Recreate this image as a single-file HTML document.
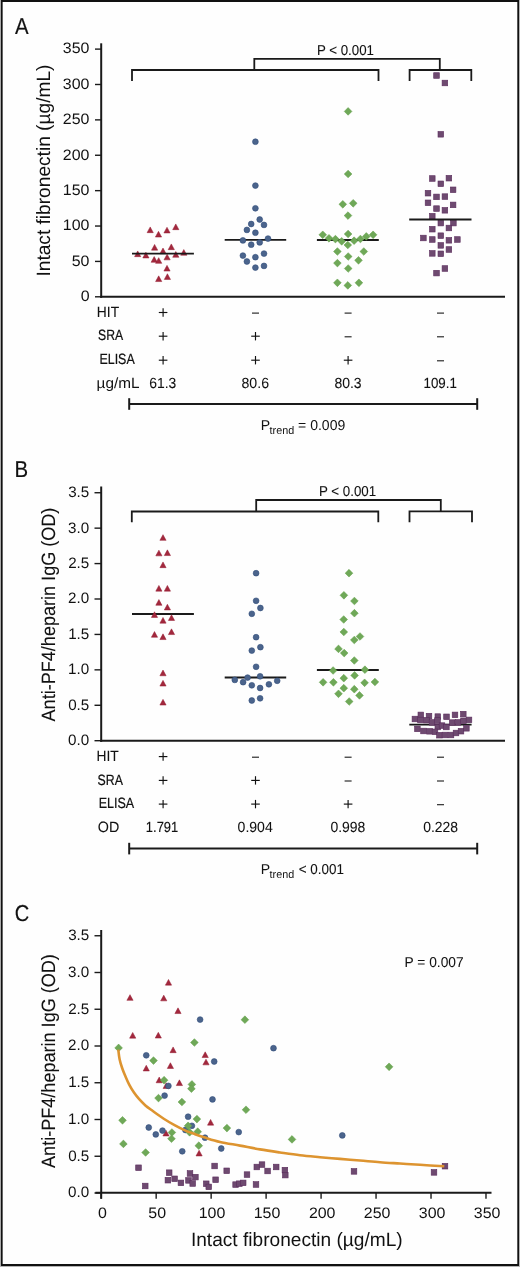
<!DOCTYPE html>
<html><head><meta charset="utf-8"><title>Figure</title>
<style>
html,body{margin:0;padding:0;background:#fff;}
svg{display:block;will-change:transform;}
text{font-family:"Liberation Sans", sans-serif;text-rendering:geometricPrecision;}
</style></head>
<body>
<svg width="520" height="1267" viewBox="0 0 520 1267">
<rect x="0" y="0" width="520" height="1267" fill="#fefefe"/>
<rect x="0.5" y="-1" width="519" height="1267.5" fill="none" stroke="#b4b4b4" stroke-width="1"/>
<path d="M1,1H519" stroke="#111" stroke-width="2" fill="none"/>
<path d="M1.8,0V1266" stroke="#111" stroke-width="1.7" fill="none"/>
<path d="M518.15,0V1266" stroke="#111" stroke-width="1.7" fill="none"/>
<path d="M1,1265H519" stroke="#111" stroke-width="2" fill="none"/>
<text id="lblA" transform="translate(15.12,33.70) scale(0.8868,1)" font-size="23.0" fill="#111" stroke="#111" stroke-width="0.15">A</text>
<line x1="101.20" y1="43.30" x2="101.20" y2="297.80" stroke="#1a1a1a" stroke-width="2.0" stroke-linecap="butt"/>
<line x1="100.20" y1="296.80" x2="505.00" y2="296.80" stroke="#1a1a1a" stroke-width="2.1" stroke-linecap="butt"/>
<line x1="95.00" y1="296.80" x2="101.20" y2="296.80" stroke="#1a1a1a" stroke-width="1.4" stroke-linecap="butt"/>
<text id="tA0" transform="translate(80.66,301.15) scale(1.0500,1)" font-size="15.2" fill="#111">0</text>
<line x1="95.00" y1="261.42" x2="101.20" y2="261.42" stroke="#1a1a1a" stroke-width="1.4" stroke-linecap="butt"/>
<text id="tA50" transform="translate(71.69,265.77) scale(1.0500,1)" font-size="15.2" fill="#111">50</text>
<line x1="95.00" y1="226.03" x2="101.20" y2="226.03" stroke="#1a1a1a" stroke-width="1.4" stroke-linecap="butt"/>
<text id="tA100" transform="translate(62.81,230.38) scale(1.0500,1)" font-size="15.2" fill="#111">100</text>
<line x1="95.00" y1="190.65" x2="101.20" y2="190.65" stroke="#1a1a1a" stroke-width="1.4" stroke-linecap="butt"/>
<text id="tA150" transform="translate(62.81,195.00) scale(1.0500,1)" font-size="15.2" fill="#111">150</text>
<line x1="95.00" y1="155.26" x2="101.20" y2="155.26" stroke="#1a1a1a" stroke-width="1.4" stroke-linecap="butt"/>
<text id="tA200" transform="translate(62.81,159.61) scale(1.0500,1)" font-size="15.2" fill="#111">200</text>
<line x1="95.00" y1="119.88" x2="101.20" y2="119.88" stroke="#1a1a1a" stroke-width="1.4" stroke-linecap="butt"/>
<text id="tA250" transform="translate(62.81,124.22) scale(1.0500,1)" font-size="15.2" fill="#111">250</text>
<line x1="95.00" y1="84.49" x2="101.20" y2="84.49" stroke="#1a1a1a" stroke-width="1.4" stroke-linecap="butt"/>
<text id="tA300" transform="translate(62.81,88.84) scale(1.0500,1)" font-size="15.2" fill="#111">300</text>
<line x1="95.00" y1="49.11" x2="101.20" y2="49.11" stroke="#1a1a1a" stroke-width="1.4" stroke-linecap="butt"/>
<text id="tA350" transform="translate(62.81,53.46) scale(1.0500,1)" font-size="15.2" fill="#111">350</text>
<text id="ytA" transform="translate(49.70,276.58) rotate(-90) scale(0.9923,1)" font-size="19.3" fill="#111">Intact fibronectin (µg/mL)</text>
<path d="M132,81V70H378.5V81" stroke="#1a1a1a" stroke-width="1.8" fill="none" stroke-linejoin="miter" />
<path d="M409.6,81V70.0H471.3V81" stroke="#1a1a1a" stroke-width="1.8" fill="none" stroke-linejoin="miter" />
<path d="M254.3,70V58.9H439.8V70" stroke="#1a1a1a" stroke-width="1.8" fill="none" stroke-linejoin="miter" />
<text id="pA" transform="translate(316.95,54.60) scale(0.9286,1)" font-size="14.3" fill="#111" stroke="#111" stroke-width="0.09">P &lt; 0.001</text>
<text id="hitA" transform="translate(96.81,316.70) scale(0.9286,1)" font-size="14.9" fill="#111" stroke="#111" stroke-width="0.09">HIT</text>
<text id="sraA" transform="translate(98.07,340.40) scale(0.8195,1)" font-size="14.9" fill="#111" stroke="#111" stroke-width="0.23">SRA</text>
<text id="elisaA" transform="translate(99.43,364.40) scale(0.8355,1)" font-size="14.9" fill="#111" stroke="#111" stroke-width="0.21">ELISA</text>
<text id="ugA" transform="translate(96.59,388.40) scale(1.0279,1)" font-size="14.9" fill="#111">µg/mL</text>
<line x1="158.80" y1="312.50" x2="167.40" y2="312.50" stroke="#111" stroke-width="1.15" stroke-linecap="butt"/>
<line x1="163.10" y1="308.30" x2="163.10" y2="316.70" stroke="#111" stroke-width="1.15" stroke-linecap="butt"/>
<line x1="252.00" y1="313.10" x2="259.00" y2="313.10" stroke="#1a1a1a" stroke-width="1.1" stroke-linecap="butt"/>
<line x1="344.60" y1="313.10" x2="351.60" y2="313.10" stroke="#1a1a1a" stroke-width="1.1" stroke-linecap="butt"/>
<line x1="437.00" y1="313.10" x2="444.00" y2="313.10" stroke="#1a1a1a" stroke-width="1.1" stroke-linecap="butt"/>
<line x1="158.80" y1="336.20" x2="167.40" y2="336.20" stroke="#111" stroke-width="1.15" stroke-linecap="butt"/>
<line x1="163.10" y1="332.00" x2="163.10" y2="340.40" stroke="#111" stroke-width="1.15" stroke-linecap="butt"/>
<line x1="251.20" y1="336.20" x2="259.80" y2="336.20" stroke="#111" stroke-width="1.15" stroke-linecap="butt"/>
<line x1="255.50" y1="332.00" x2="255.50" y2="340.40" stroke="#111" stroke-width="1.15" stroke-linecap="butt"/>
<line x1="344.60" y1="336.80" x2="351.60" y2="336.80" stroke="#1a1a1a" stroke-width="1.1" stroke-linecap="butt"/>
<line x1="437.00" y1="336.80" x2="444.00" y2="336.80" stroke="#1a1a1a" stroke-width="1.1" stroke-linecap="butt"/>
<line x1="158.80" y1="360.20" x2="167.40" y2="360.20" stroke="#111" stroke-width="1.15" stroke-linecap="butt"/>
<line x1="163.10" y1="356.00" x2="163.10" y2="364.40" stroke="#111" stroke-width="1.15" stroke-linecap="butt"/>
<line x1="251.20" y1="360.20" x2="259.80" y2="360.20" stroke="#111" stroke-width="1.15" stroke-linecap="butt"/>
<line x1="255.50" y1="356.00" x2="255.50" y2="364.40" stroke="#111" stroke-width="1.15" stroke-linecap="butt"/>
<line x1="343.80" y1="360.20" x2="352.40" y2="360.20" stroke="#111" stroke-width="1.15" stroke-linecap="butt"/>
<line x1="348.10" y1="356.00" x2="348.10" y2="364.40" stroke="#111" stroke-width="1.15" stroke-linecap="butt"/>
<line x1="437.00" y1="360.80" x2="444.00" y2="360.80" stroke="#1a1a1a" stroke-width="1.1" stroke-linecap="butt"/>
<text id="nA0" transform="translate(149.24,388.40) scale(0.9468,1)" font-size="14.65" fill="#111" stroke="#111" stroke-width="0.07">61.3</text>
<text id="nA1" transform="translate(241.50,388.40) scale(0.9662,1)" font-size="14.65" fill="#111" stroke="#111" stroke-width="0.04">80.6</text>
<text id="nA2" transform="translate(334.41,388.40) scale(0.9553,1)" font-size="14.65" fill="#111" stroke="#111" stroke-width="0.06">80.3</text>
<text id="nA3" transform="translate(423.52,388.40) scale(0.9116,1)" font-size="14.65" fill="#111" stroke="#111" stroke-width="0.11">109.1</text>
<line x1="129.20" y1="403.90" x2="477.20" y2="403.90" stroke="#1a1a1a" stroke-width="2.0" stroke-linecap="butt"/>
<line x1="129.20" y1="398.20" x2="129.20" y2="409.80" stroke="#1a1a1a" stroke-width="2.0" stroke-linecap="butt"/>
<line x1="477.20" y1="398.20" x2="477.20" y2="409.80" stroke="#1a1a1a" stroke-width="2.0" stroke-linecap="butt"/>
<text id="ptA" transform="translate(260.78,429.90) scale(0.9844,1)" font-size="14.3" fill="#111">P</text>
<text id="ptA_s" transform="translate(269.60,433.60) scale(0.9814,1)" font-size="11.0" fill="#111">trend</text>
<text id="ptA_v" transform="translate(298.09,430.10) scale(0.9804,1)" font-size="14.3" fill="#111">= 0.009</text>
<text id="lblB" transform="translate(14.52,477.30) scale(0.8888,1)" font-size="23.0" fill="#111" stroke="#111" stroke-width="0.14">B</text>
<line x1="101.20" y1="486.50" x2="101.20" y2="741.80" stroke="#1a1a1a" stroke-width="2.0" stroke-linecap="butt"/>
<line x1="100.20" y1="740.80" x2="505.00" y2="740.80" stroke="#1a1a1a" stroke-width="2.1" stroke-linecap="butt"/>
<line x1="94.50" y1="740.70" x2="101.20" y2="740.70" stroke="#1a1a1a" stroke-width="1.4" stroke-linecap="butt"/>
<text id="tB0" transform="translate(68.08,745.05) scale(1.0000,1)" font-size="15.2" fill="#111">0.0</text>
<line x1="94.50" y1="705.28" x2="101.20" y2="705.28" stroke="#1a1a1a" stroke-width="1.4" stroke-linecap="butt"/>
<text id="tB1" transform="translate(68.13,709.63) scale(1.0000,1)" font-size="15.2" fill="#111">0.5</text>
<line x1="94.50" y1="669.85" x2="101.20" y2="669.85" stroke="#1a1a1a" stroke-width="1.4" stroke-linecap="butt"/>
<text id="tB2" transform="translate(68.08,674.20) scale(1.0000,1)" font-size="15.2" fill="#111">1.0</text>
<line x1="94.50" y1="634.43" x2="101.20" y2="634.43" stroke="#1a1a1a" stroke-width="1.4" stroke-linecap="butt"/>
<text id="tB3" transform="translate(68.13,638.78) scale(1.0000,1)" font-size="15.2" fill="#111">1.5</text>
<line x1="94.50" y1="599.00" x2="101.20" y2="599.00" stroke="#1a1a1a" stroke-width="1.4" stroke-linecap="butt"/>
<text id="tB4" transform="translate(68.08,603.35) scale(1.0000,1)" font-size="15.2" fill="#111">2.0</text>
<line x1="94.50" y1="563.58" x2="101.20" y2="563.58" stroke="#1a1a1a" stroke-width="1.4" stroke-linecap="butt"/>
<text id="tB5" transform="translate(68.13,567.93) scale(1.0000,1)" font-size="15.2" fill="#111">2.5</text>
<line x1="94.50" y1="528.15" x2="101.20" y2="528.15" stroke="#1a1a1a" stroke-width="1.4" stroke-linecap="butt"/>
<text id="tB6" transform="translate(68.08,532.50) scale(1.0000,1)" font-size="15.2" fill="#111">3.0</text>
<line x1="94.50" y1="492.73" x2="101.20" y2="492.73" stroke="#1a1a1a" stroke-width="1.4" stroke-linecap="butt"/>
<text id="tB7" transform="translate(68.13,497.08) scale(1.0000,1)" font-size="15.2" fill="#111">3.5</text>
<text id="ytB" transform="translate(54.50,721.46) rotate(-90) scale(0.9369,1)" font-size="19.3" fill="#111" stroke="#111" stroke-width="0.08">Anti-PF4/heparin IgG (OD)</text>
<path d="M131.8,522.3V511.5H378.3V522.3" stroke="#1a1a1a" stroke-width="1.8" fill="none" stroke-linejoin="miter" />
<path d="M409.5,522.3V511.3H472V522.3" stroke="#1a1a1a" stroke-width="1.8" fill="none" stroke-linejoin="miter" />
<path d="M256.2,511.5V500H440.8V511.3" stroke="#1a1a1a" stroke-width="1.8" fill="none" stroke-linejoin="miter" />
<text id="pB" transform="translate(318.94,495.90) scale(0.9320,1)" font-size="14.3" fill="#111" stroke="#111" stroke-width="0.09">P &lt; 0.001</text>
<line x1="132.00" y1="614.00" x2="193.90" y2="614.00" stroke="#1a1a1a" stroke-width="1.8" stroke-linecap="butt"/>
<line x1="224.70" y1="677.50" x2="286.20" y2="677.50" stroke="#1a1a1a" stroke-width="1.8" stroke-linecap="butt"/>
<line x1="316.90" y1="670.00" x2="378.80" y2="670.00" stroke="#1a1a1a" stroke-width="1.8" stroke-linecap="butt"/>
<line x1="409.30" y1="724.60" x2="471.60" y2="724.60" stroke="#1a1a1a" stroke-width="1.8" stroke-linecap="butt"/>
<text id="hitB" transform="translate(96.61,760.80) scale(0.9241,1)" font-size="14.9" fill="#111" stroke="#111" stroke-width="0.10">HIT</text>
<text id="sraB" transform="translate(97.56,784.60) scale(0.8263,1)" font-size="14.9" fill="#111" stroke="#111" stroke-width="0.23">SRA</text>
<text id="elisaB" transform="translate(98.72,808.30) scale(0.8404,1)" font-size="14.9" fill="#111" stroke="#111" stroke-width="0.21">ELISA</text>
<text id="odB" transform="translate(97.86,831.90) scale(0.9624,1)" font-size="14.9" fill="#111" stroke="#111" stroke-width="0.05">OD</text>
<line x1="158.80" y1="756.60" x2="167.40" y2="756.60" stroke="#111" stroke-width="1.15" stroke-linecap="butt"/>
<line x1="163.10" y1="752.40" x2="163.10" y2="760.80" stroke="#111" stroke-width="1.15" stroke-linecap="butt"/>
<line x1="252.00" y1="757.20" x2="259.00" y2="757.20" stroke="#1a1a1a" stroke-width="1.1" stroke-linecap="butt"/>
<line x1="344.60" y1="757.20" x2="351.60" y2="757.20" stroke="#1a1a1a" stroke-width="1.1" stroke-linecap="butt"/>
<line x1="437.00" y1="757.20" x2="444.00" y2="757.20" stroke="#1a1a1a" stroke-width="1.1" stroke-linecap="butt"/>
<line x1="158.80" y1="780.40" x2="167.40" y2="780.40" stroke="#111" stroke-width="1.15" stroke-linecap="butt"/>
<line x1="163.10" y1="776.20" x2="163.10" y2="784.60" stroke="#111" stroke-width="1.15" stroke-linecap="butt"/>
<line x1="251.20" y1="780.40" x2="259.80" y2="780.40" stroke="#111" stroke-width="1.15" stroke-linecap="butt"/>
<line x1="255.50" y1="776.20" x2="255.50" y2="784.60" stroke="#111" stroke-width="1.15" stroke-linecap="butt"/>
<line x1="344.60" y1="781.00" x2="351.60" y2="781.00" stroke="#1a1a1a" stroke-width="1.1" stroke-linecap="butt"/>
<line x1="437.00" y1="781.00" x2="444.00" y2="781.00" stroke="#1a1a1a" stroke-width="1.1" stroke-linecap="butt"/>
<line x1="158.80" y1="804.10" x2="167.40" y2="804.10" stroke="#111" stroke-width="1.15" stroke-linecap="butt"/>
<line x1="163.10" y1="799.90" x2="163.10" y2="808.30" stroke="#111" stroke-width="1.15" stroke-linecap="butt"/>
<line x1="251.20" y1="804.10" x2="259.80" y2="804.10" stroke="#111" stroke-width="1.15" stroke-linecap="butt"/>
<line x1="255.50" y1="799.90" x2="255.50" y2="808.30" stroke="#111" stroke-width="1.15" stroke-linecap="butt"/>
<line x1="343.80" y1="804.10" x2="352.40" y2="804.10" stroke="#111" stroke-width="1.15" stroke-linecap="butt"/>
<line x1="348.10" y1="799.90" x2="348.10" y2="808.30" stroke="#111" stroke-width="1.15" stroke-linecap="butt"/>
<line x1="437.00" y1="804.70" x2="444.00" y2="804.70" stroke="#1a1a1a" stroke-width="1.1" stroke-linecap="butt"/>
<text id="nB0" transform="translate(145.85,831.90) scale(0.8828,1)" font-size="14.65" fill="#111" stroke="#111" stroke-width="0.15">1.791</text>
<text id="nB1" transform="translate(237.58,831.90) scale(0.9603,1)" font-size="14.65" fill="#111" stroke="#111" stroke-width="0.05">0.904</text>
<text id="nB2" transform="translate(330.38,831.90) scale(0.9541,1)" font-size="14.65" fill="#111" stroke="#111" stroke-width="0.06">0.998</text>
<text id="nB3" transform="translate(423.18,831.90) scale(0.9513,1)" font-size="14.65" fill="#111" stroke="#111" stroke-width="0.06">0.228</text>
<line x1="129.20" y1="848.50" x2="477.20" y2="848.50" stroke="#1a1a1a" stroke-width="2.0" stroke-linecap="butt"/>
<line x1="129.20" y1="842.80" x2="129.20" y2="854.40" stroke="#1a1a1a" stroke-width="2.0" stroke-linecap="butt"/>
<line x1="477.20" y1="842.80" x2="477.20" y2="854.40" stroke="#1a1a1a" stroke-width="2.0" stroke-linecap="butt"/>
<text id="ptB" transform="translate(260.78,873.90) scale(0.9844,1)" font-size="14.3" fill="#111">P</text>
<text id="ptB_s" transform="translate(269.60,877.60) scale(0.9814,1)" font-size="11.0" fill="#111">trend</text>
<text id="ptB_v" transform="translate(298.72,874.10) scale(0.9394,1)" font-size="14.3" fill="#111" stroke="#111" stroke-width="0.08">&lt; 0.001</text>
<text id="lblC" transform="translate(14.68,921.20) scale(0.8734,1)" font-size="23.0" fill="#111" stroke="#111" stroke-width="0.16">C</text>
<line x1="101.20" y1="930.10" x2="101.20" y2="1198.80" stroke="#1a1a1a" stroke-width="2.0" stroke-linecap="butt"/>
<line x1="95.40" y1="1192.80" x2="491.50" y2="1192.80" stroke="#1a1a1a" stroke-width="2.1" stroke-linecap="butt"/>
<line x1="94.50" y1="1193.00" x2="101.20" y2="1193.00" stroke="#1a1a1a" stroke-width="1.4" stroke-linecap="butt"/>
<text id="tC0" transform="translate(68.08,1197.35) scale(1.0000,1)" font-size="15.2" fill="#111">0.0</text>
<line x1="94.50" y1="1156.25" x2="101.20" y2="1156.25" stroke="#1a1a1a" stroke-width="1.4" stroke-linecap="butt"/>
<text id="tC1" transform="translate(68.13,1160.60) scale(1.0000,1)" font-size="15.2" fill="#111">0.5</text>
<line x1="94.50" y1="1119.50" x2="101.20" y2="1119.50" stroke="#1a1a1a" stroke-width="1.4" stroke-linecap="butt"/>
<text id="tC2" transform="translate(68.08,1123.85) scale(1.0000,1)" font-size="15.2" fill="#111">1.0</text>
<line x1="94.50" y1="1082.75" x2="101.20" y2="1082.75" stroke="#1a1a1a" stroke-width="1.4" stroke-linecap="butt"/>
<text id="tC3" transform="translate(68.13,1087.10) scale(1.0000,1)" font-size="15.2" fill="#111">1.5</text>
<line x1="94.50" y1="1046.00" x2="101.20" y2="1046.00" stroke="#1a1a1a" stroke-width="1.4" stroke-linecap="butt"/>
<text id="tC4" transform="translate(68.08,1050.35) scale(1.0000,1)" font-size="15.2" fill="#111">2.0</text>
<line x1="94.50" y1="1009.25" x2="101.20" y2="1009.25" stroke="#1a1a1a" stroke-width="1.4" stroke-linecap="butt"/>
<text id="tC5" transform="translate(68.13,1013.60) scale(1.0000,1)" font-size="15.2" fill="#111">2.5</text>
<line x1="94.50" y1="972.50" x2="101.20" y2="972.50" stroke="#1a1a1a" stroke-width="1.4" stroke-linecap="butt"/>
<text id="tC6" transform="translate(68.08,976.85) scale(1.0000,1)" font-size="15.2" fill="#111">3.0</text>
<line x1="94.50" y1="935.75" x2="101.20" y2="935.75" stroke="#1a1a1a" stroke-width="1.4" stroke-linecap="butt"/>
<text id="tC7" transform="translate(68.13,940.10) scale(1.0000,1)" font-size="15.2" fill="#111">3.5</text>
<line x1="101.20" y1="1192.80" x2="101.20" y2="1198.80" stroke="#1a1a1a" stroke-width="1.4" stroke-linecap="butt"/>
<text id="xC0" transform="translate(97.99,1218.00) scale(1.0500,1)" font-size="15.2" fill="#111">0</text>
<line x1="156.17" y1="1192.80" x2="156.17" y2="1198.80" stroke="#1a1a1a" stroke-width="1.4" stroke-linecap="butt"/>
<text id="xC50" transform="translate(148.34,1218.00) scale(1.0500,1)" font-size="15.2" fill="#111">50</text>
<line x1="211.14" y1="1192.80" x2="211.14" y2="1198.80" stroke="#1a1a1a" stroke-width="1.4" stroke-linecap="butt"/>
<text id="xC100" transform="translate(198.70,1218.00) scale(1.0500,1)" font-size="15.2" fill="#111">100</text>
<line x1="266.11" y1="1192.80" x2="266.11" y2="1198.80" stroke="#1a1a1a" stroke-width="1.4" stroke-linecap="butt"/>
<text id="xC150" transform="translate(253.67,1218.00) scale(1.0500,1)" font-size="15.2" fill="#111">150</text>
<line x1="321.08" y1="1192.80" x2="321.08" y2="1198.80" stroke="#1a1a1a" stroke-width="1.4" stroke-linecap="butt"/>
<text id="xC200" transform="translate(308.88,1218.00) scale(1.0500,1)" font-size="15.2" fill="#111">200</text>
<line x1="376.05" y1="1192.80" x2="376.05" y2="1198.80" stroke="#1a1a1a" stroke-width="1.4" stroke-linecap="butt"/>
<text id="xC250" transform="translate(363.85,1218.00) scale(1.0500,1)" font-size="15.2" fill="#111">250</text>
<line x1="431.02" y1="1192.80" x2="431.02" y2="1198.80" stroke="#1a1a1a" stroke-width="1.4" stroke-linecap="butt"/>
<text id="xC300" transform="translate(418.82,1218.00) scale(1.0500,1)" font-size="15.2" fill="#111">300</text>
<line x1="485.99" y1="1192.80" x2="485.99" y2="1198.80" stroke="#1a1a1a" stroke-width="1.4" stroke-linecap="butt"/>
<text id="xC350" transform="translate(473.79,1218.00) scale(1.0500,1)" font-size="15.2" fill="#111">350</text>
<text id="ytC" transform="translate(54.80,1167.96) rotate(-90) scale(0.9369,1)" font-size="19.3" fill="#111" stroke="#111" stroke-width="0.08">Anti-PF4/heparin IgG (OD)</text>
<text id="xtC" transform="translate(190.92,1245.80) scale(0.9914,1)" font-size="19.3" fill="#111">Intact fibronectin (µg/mL)</text>
<text id="pC" transform="translate(404.60,967.20) scale(0.9618,1)" font-size="14.3" fill="#111" stroke="#111" stroke-width="0.05">P = 0.007</text>
<path d="M150.20,226.95L153.30,232.65L147.10,232.65Z" fill="#a2283d" stroke="#951a31" stroke-width="0.5"/>
<path d="M158.50,231.35L161.60,237.05L155.40,237.05Z" fill="#a2283d" stroke="#951a31" stroke-width="0.5"/>
<path d="M167.00,227.25L170.10,232.95L163.90,232.95Z" fill="#a2283d" stroke="#951a31" stroke-width="0.5"/>
<path d="M175.80,223.95L178.90,229.65L172.70,229.65Z" fill="#a2283d" stroke="#951a31" stroke-width="0.5"/>
<path d="M154.60,244.45L157.70,250.15L151.50,250.15Z" fill="#a2283d" stroke="#951a31" stroke-width="0.5"/>
<path d="M171.30,243.95L174.40,249.65L168.20,249.65Z" fill="#a2283d" stroke="#951a31" stroke-width="0.5"/>
<path d="M163.00,248.05L166.10,253.75L159.90,253.75Z" fill="#a2283d" stroke="#951a31" stroke-width="0.5"/>
<path d="M137.70,250.95L140.80,256.65L134.60,256.65Z" fill="#a2283d" stroke="#951a31" stroke-width="0.5"/>
<path d="M145.90,252.25L149.00,257.95L142.80,257.95Z" fill="#a2283d" stroke="#951a31" stroke-width="0.5"/>
<path d="M154.20,256.55L157.30,262.25L151.10,262.25Z" fill="#a2283d" stroke="#951a31" stroke-width="0.5"/>
<path d="M158.70,257.65L161.80,263.35L155.60,263.35Z" fill="#a2283d" stroke="#951a31" stroke-width="0.5"/>
<path d="M167.10,254.15L170.20,259.85L164.00,259.85Z" fill="#a2283d" stroke="#951a31" stroke-width="0.5"/>
<path d="M175.80,251.55L178.90,257.25L172.70,257.25Z" fill="#a2283d" stroke="#951a31" stroke-width="0.5"/>
<path d="M183.80,249.55L186.90,255.25L180.70,255.25Z" fill="#a2283d" stroke="#951a31" stroke-width="0.5"/>
<path d="M167.00,265.35L170.10,271.05L163.90,271.05Z" fill="#a2283d" stroke="#951a31" stroke-width="0.5"/>
<path d="M158.70,275.85L161.80,281.55L155.60,281.55Z" fill="#a2283d" stroke="#951a31" stroke-width="0.5"/>
<path d="M167.40,273.75L170.50,279.45L164.30,279.45Z" fill="#a2283d" stroke="#951a31" stroke-width="0.5"/>
<line x1="132.00" y1="253.60" x2="193.90" y2="253.60" stroke="#1a1a1a" stroke-width="1.8" stroke-linecap="butt"/>
<line x1="224.70" y1="239.80" x2="286.20" y2="239.80" stroke="#1a1a1a" stroke-width="1.8" stroke-linecap="butt"/>
<circle cx="255.40" cy="141.70" r="2.9" fill="#4b648c" stroke="#304d7b" stroke-width="0.6"/>
<circle cx="255.40" cy="185.60" r="2.9" fill="#4b648c" stroke="#304d7b" stroke-width="0.6"/>
<circle cx="255.40" cy="208.30" r="2.9" fill="#4b648c" stroke="#304d7b" stroke-width="0.6"/>
<circle cx="259.70" cy="219.50" r="2.9" fill="#4b648c" stroke="#304d7b" stroke-width="0.6"/>
<circle cx="251.20" cy="224.00" r="2.9" fill="#4b648c" stroke="#304d7b" stroke-width="0.6"/>
<circle cx="264.00" cy="224.90" r="2.9" fill="#4b648c" stroke="#304d7b" stroke-width="0.6"/>
<circle cx="246.90" cy="229.90" r="2.9" fill="#4b648c" stroke="#304d7b" stroke-width="0.6"/>
<circle cx="255.40" cy="232.70" r="2.9" fill="#4b648c" stroke="#304d7b" stroke-width="0.6"/>
<circle cx="242.90" cy="240.40" r="2.9" fill="#4b648c" stroke="#304d7b" stroke-width="0.6"/>
<circle cx="268.00" cy="238.60" r="2.9" fill="#4b648c" stroke="#304d7b" stroke-width="0.6"/>
<circle cx="251.20" cy="244.70" r="2.9" fill="#4b648c" stroke="#304d7b" stroke-width="0.6"/>
<circle cx="259.70" cy="242.40" r="2.9" fill="#4b648c" stroke="#304d7b" stroke-width="0.6"/>
<circle cx="242.90" cy="255.60" r="2.9" fill="#4b648c" stroke="#304d7b" stroke-width="0.6"/>
<circle cx="255.40" cy="257.20" r="2.9" fill="#4b648c" stroke="#304d7b" stroke-width="0.6"/>
<circle cx="264.00" cy="253.60" r="2.9" fill="#4b648c" stroke="#304d7b" stroke-width="0.6"/>
<circle cx="246.90" cy="261.50" r="2.9" fill="#4b648c" stroke="#304d7b" stroke-width="0.6"/>
<circle cx="255.40" cy="267.60" r="2.9" fill="#4b648c" stroke="#304d7b" stroke-width="0.6"/>
<circle cx="264.00" cy="265.90" r="2.9" fill="#4b648c" stroke="#304d7b" stroke-width="0.6"/>
<line x1="316.90" y1="240.00" x2="378.80" y2="240.00" stroke="#1a1a1a" stroke-width="1.8" stroke-linecap="butt"/>
<path d="M348.10,107.55L351.95,111.40L348.10,115.25L344.25,111.40Z" fill="#6fa858" stroke="#5e9e44" stroke-width="0.5"/>
<path d="M348.10,170.15L351.95,174.00L348.10,177.85L344.25,174.00Z" fill="#6fa858" stroke="#5e9e44" stroke-width="0.5"/>
<path d="M342.80,200.45L346.65,204.30L342.80,208.15L338.95,204.30Z" fill="#6fa858" stroke="#5e9e44" stroke-width="0.5"/>
<path d="M353.20,199.45L357.05,203.30L353.20,207.15L349.35,203.30Z" fill="#6fa858" stroke="#5e9e44" stroke-width="0.5"/>
<path d="M348.00,211.75L351.85,215.60L348.00,219.45L344.15,215.60Z" fill="#6fa858" stroke="#5e9e44" stroke-width="0.5"/>
<path d="M322.75,230.95L326.60,234.80L322.75,238.65L318.90,234.80Z" fill="#6fa858" stroke="#5e9e44" stroke-width="0.5"/>
<path d="M329.00,234.45L332.85,238.30L329.00,242.15L325.15,238.30Z" fill="#6fa858" stroke="#5e9e44" stroke-width="0.5"/>
<path d="M335.40,235.25L339.25,239.10L335.40,242.95L331.55,239.10Z" fill="#6fa858" stroke="#5e9e44" stroke-width="0.5"/>
<path d="M341.70,237.45L345.55,241.30L341.70,245.15L337.85,241.30Z" fill="#6fa858" stroke="#5e9e44" stroke-width="0.5"/>
<path d="M348.10,230.15L351.95,234.00L348.10,237.85L344.25,234.00Z" fill="#6fa858" stroke="#5e9e44" stroke-width="0.5"/>
<path d="M347.80,241.15L351.65,245.00L347.80,248.85L343.95,245.00Z" fill="#6fa858" stroke="#5e9e44" stroke-width="0.5"/>
<path d="M354.10,236.85L357.95,240.70L354.10,244.55L350.25,240.70Z" fill="#6fa858" stroke="#5e9e44" stroke-width="0.5"/>
<path d="M360.40,235.15L364.25,239.00L360.40,242.85L356.55,239.00Z" fill="#6fa858" stroke="#5e9e44" stroke-width="0.5"/>
<path d="M366.30,232.55L370.15,236.40L366.30,240.25L362.45,236.40Z" fill="#6fa858" stroke="#5e9e44" stroke-width="0.5"/>
<path d="M373.10,230.95L376.95,234.80L373.10,238.65L369.25,234.80Z" fill="#6fa858" stroke="#5e9e44" stroke-width="0.5"/>
<path d="M337.40,247.65L341.25,251.50L337.40,255.35L333.55,251.50Z" fill="#6fa858" stroke="#5e9e44" stroke-width="0.5"/>
<path d="M348.20,252.65L352.05,256.50L348.20,260.35L344.35,256.50Z" fill="#6fa858" stroke="#5e9e44" stroke-width="0.5"/>
<path d="M363.80,247.65L367.65,251.50L363.80,255.35L359.95,251.50Z" fill="#6fa858" stroke="#5e9e44" stroke-width="0.5"/>
<path d="M337.40,259.25L341.25,263.10L337.40,266.95L333.55,263.10Z" fill="#6fa858" stroke="#5e9e44" stroke-width="0.5"/>
<path d="M358.50,256.45L362.35,260.30L358.50,264.15L354.65,260.30Z" fill="#6fa858" stroke="#5e9e44" stroke-width="0.5"/>
<path d="M348.20,264.65L352.05,268.50L348.20,272.35L344.35,268.50Z" fill="#6fa858" stroke="#5e9e44" stroke-width="0.5"/>
<path d="M337.40,278.95L341.25,282.80L337.40,286.65L333.55,282.80Z" fill="#6fa858" stroke="#5e9e44" stroke-width="0.5"/>
<path d="M347.80,281.55L351.65,285.40L347.80,289.25L343.95,285.40Z" fill="#6fa858" stroke="#5e9e44" stroke-width="0.5"/>
<path d="M358.90,278.95L362.75,282.80L358.90,286.65L355.05,282.80Z" fill="#6fa858" stroke="#5e9e44" stroke-width="0.5"/>
<rect x="433.70" y="72.70" width="5.6" height="5.6" fill="#6e4a70" stroke="#5a2c5c" stroke-width="0.6"/>
<rect x="442.10" y="80.20" width="5.6" height="5.6" fill="#6e4a70" stroke="#5a2c5c" stroke-width="0.6"/>
<rect x="438.00" y="131.50" width="5.6" height="5.6" fill="#6e4a70" stroke="#5a2c5c" stroke-width="0.6"/>
<rect x="429.50" y="175.70" width="5.6" height="5.6" fill="#6e4a70" stroke="#5a2c5c" stroke-width="0.6"/>
<rect x="446.10" y="175.40" width="5.6" height="5.6" fill="#6e4a70" stroke="#5a2c5c" stroke-width="0.6"/>
<rect x="438.00" y="181.00" width="5.6" height="5.6" fill="#6e4a70" stroke="#5a2c5c" stroke-width="0.6"/>
<rect x="425.20" y="190.40" width="5.6" height="5.6" fill="#6e4a70" stroke="#5a2c5c" stroke-width="0.6"/>
<rect x="450.30" y="187.00" width="5.6" height="5.6" fill="#6e4a70" stroke="#5a2c5c" stroke-width="0.6"/>
<rect x="433.70" y="194.10" width="5.6" height="5.6" fill="#6e4a70" stroke="#5a2c5c" stroke-width="0.6"/>
<rect x="442.10" y="193.80" width="5.6" height="5.6" fill="#6e4a70" stroke="#5a2c5c" stroke-width="0.6"/>
<rect x="425.20" y="200.00" width="5.6" height="5.6" fill="#6e4a70" stroke="#5a2c5c" stroke-width="0.6"/>
<rect x="450.30" y="202.10" width="5.6" height="5.6" fill="#6e4a70" stroke="#5a2c5c" stroke-width="0.6"/>
<rect x="433.70" y="205.80" width="5.6" height="5.6" fill="#6e4a70" stroke="#5a2c5c" stroke-width="0.6"/>
<rect x="442.10" y="207.50" width="5.6" height="5.6" fill="#6e4a70" stroke="#5a2c5c" stroke-width="0.6"/>
<rect x="429.50" y="213.40" width="5.6" height="5.6" fill="#6e4a70" stroke="#5a2c5c" stroke-width="0.6"/>
<rect x="438.00" y="220.30" width="5.6" height="5.6" fill="#6e4a70" stroke="#5a2c5c" stroke-width="0.6"/>
<rect x="450.60" y="220.30" width="5.6" height="5.6" fill="#6e4a70" stroke="#5a2c5c" stroke-width="0.6"/>
<rect x="446.10" y="225.20" width="5.6" height="5.6" fill="#6e4a70" stroke="#5a2c5c" stroke-width="0.6"/>
<rect x="429.50" y="226.40" width="5.6" height="5.6" fill="#6e4a70" stroke="#5a2c5c" stroke-width="0.6"/>
<rect x="420.60" y="235.20" width="5.6" height="5.6" fill="#6e4a70" stroke="#5a2c5c" stroke-width="0.6"/>
<rect x="429.50" y="236.70" width="5.6" height="5.6" fill="#6e4a70" stroke="#5a2c5c" stroke-width="0.6"/>
<rect x="438.00" y="232.90" width="5.6" height="5.6" fill="#6e4a70" stroke="#5a2c5c" stroke-width="0.6"/>
<rect x="446.10" y="237.50" width="5.6" height="5.6" fill="#6e4a70" stroke="#5a2c5c" stroke-width="0.6"/>
<rect x="454.60" y="236.70" width="5.6" height="5.6" fill="#6e4a70" stroke="#5a2c5c" stroke-width="0.6"/>
<rect x="438.00" y="242.60" width="5.6" height="5.6" fill="#6e4a70" stroke="#5a2c5c" stroke-width="0.6"/>
<rect x="446.10" y="246.70" width="5.6" height="5.6" fill="#6e4a70" stroke="#5a2c5c" stroke-width="0.6"/>
<rect x="429.50" y="250.60" width="5.6" height="5.6" fill="#6e4a70" stroke="#5a2c5c" stroke-width="0.6"/>
<rect x="438.00" y="251.00" width="5.6" height="5.6" fill="#6e4a70" stroke="#5a2c5c" stroke-width="0.6"/>
<rect x="442.10" y="265.70" width="5.6" height="5.6" fill="#6e4a70" stroke="#5a2c5c" stroke-width="0.6"/>
<rect x="433.70" y="270.30" width="5.6" height="5.6" fill="#6e4a70" stroke="#5a2c5c" stroke-width="0.6"/>
<line x1="409.20" y1="219.50" x2="471.50" y2="219.50" stroke="#1a1a1a" stroke-width="1.8" stroke-linecap="butt"/>
<path d="M163.00,534.65L166.10,540.35L159.90,540.35Z" fill="#a2283d" stroke="#951a31" stroke-width="0.5"/>
<path d="M158.90,550.15L162.00,555.85L155.80,555.85Z" fill="#a2283d" stroke="#951a31" stroke-width="0.5"/>
<path d="M167.40,549.85L170.50,555.55L164.30,555.55Z" fill="#a2283d" stroke="#951a31" stroke-width="0.5"/>
<path d="M163.00,561.95L166.10,567.65L159.90,567.65Z" fill="#a2283d" stroke="#951a31" stroke-width="0.5"/>
<path d="M158.90,585.45L162.00,591.15L155.80,591.15Z" fill="#a2283d" stroke="#951a31" stroke-width="0.5"/>
<path d="M167.40,585.45L170.50,591.15L164.30,591.15Z" fill="#a2283d" stroke="#951a31" stroke-width="0.5"/>
<path d="M158.90,599.55L162.00,605.25L155.80,605.25Z" fill="#a2283d" stroke="#951a31" stroke-width="0.5"/>
<path d="M167.40,604.25L170.50,609.95L164.30,609.95Z" fill="#a2283d" stroke="#951a31" stroke-width="0.5"/>
<path d="M154.50,611.75L157.60,617.45L151.40,617.45Z" fill="#a2283d" stroke="#951a31" stroke-width="0.5"/>
<path d="M163.00,617.45L166.10,623.15L159.90,623.15Z" fill="#a2283d" stroke="#951a31" stroke-width="0.5"/>
<path d="M171.50,614.75L174.60,620.45L168.40,620.45Z" fill="#a2283d" stroke="#951a31" stroke-width="0.5"/>
<path d="M154.50,631.55L157.60,637.25L151.40,637.25Z" fill="#a2283d" stroke="#951a31" stroke-width="0.5"/>
<path d="M163.00,633.85L166.10,639.55L159.90,639.55Z" fill="#a2283d" stroke="#951a31" stroke-width="0.5"/>
<path d="M171.50,628.85L174.60,634.55L168.40,634.55Z" fill="#a2283d" stroke="#951a31" stroke-width="0.5"/>
<path d="M163.00,670.05L166.10,675.75L159.90,675.75Z" fill="#a2283d" stroke="#951a31" stroke-width="0.5"/>
<path d="M163.00,680.35L166.10,686.05L159.90,686.05Z" fill="#a2283d" stroke="#951a31" stroke-width="0.5"/>
<path d="M163.00,699.35L166.10,705.05L159.90,705.05Z" fill="#a2283d" stroke="#951a31" stroke-width="0.5"/>
<circle cx="256.10" cy="573.20" r="2.9" fill="#4b648c" stroke="#304d7b" stroke-width="0.6"/>
<circle cx="256.10" cy="600.80" r="2.9" fill="#4b648c" stroke="#304d7b" stroke-width="0.6"/>
<circle cx="260.40" cy="608.00" r="2.9" fill="#4b648c" stroke="#304d7b" stroke-width="0.6"/>
<circle cx="251.80" cy="613.80" r="2.9" fill="#4b648c" stroke="#304d7b" stroke-width="0.6"/>
<circle cx="256.10" cy="637.20" r="2.9" fill="#4b648c" stroke="#304d7b" stroke-width="0.6"/>
<circle cx="260.40" cy="647.20" r="2.9" fill="#4b648c" stroke="#304d7b" stroke-width="0.6"/>
<circle cx="251.80" cy="650.60" r="2.9" fill="#4b648c" stroke="#304d7b" stroke-width="0.6"/>
<circle cx="256.10" cy="666.80" r="2.9" fill="#4b648c" stroke="#304d7b" stroke-width="0.6"/>
<circle cx="247.60" cy="677.60" r="2.9" fill="#4b648c" stroke="#304d7b" stroke-width="0.6"/>
<circle cx="260.10" cy="676.30" r="2.9" fill="#4b648c" stroke="#304d7b" stroke-width="0.6"/>
<circle cx="234.80" cy="679.90" r="2.9" fill="#4b648c" stroke="#304d7b" stroke-width="0.6"/>
<circle cx="243.10" cy="682.20" r="2.9" fill="#4b648c" stroke="#304d7b" stroke-width="0.6"/>
<circle cx="251.80" cy="685.30" r="2.9" fill="#4b648c" stroke="#304d7b" stroke-width="0.6"/>
<circle cx="260.10" cy="688.00" r="2.9" fill="#4b648c" stroke="#304d7b" stroke-width="0.6"/>
<circle cx="268.90" cy="684.30" r="2.9" fill="#4b648c" stroke="#304d7b" stroke-width="0.6"/>
<circle cx="277.20" cy="680.80" r="2.9" fill="#4b648c" stroke="#304d7b" stroke-width="0.6"/>
<circle cx="251.80" cy="700.50" r="2.9" fill="#4b648c" stroke="#304d7b" stroke-width="0.6"/>
<circle cx="260.10" cy="698.30" r="2.9" fill="#4b648c" stroke="#304d7b" stroke-width="0.6"/>
<path d="M349.00,569.35L352.85,573.20L349.00,577.05L345.15,573.20Z" fill="#6fa858" stroke="#5e9e44" stroke-width="0.5"/>
<path d="M343.90,591.45L347.75,595.30L343.90,599.15L340.05,595.30Z" fill="#6fa858" stroke="#5e9e44" stroke-width="0.5"/>
<path d="M354.40,597.15L358.25,601.00L354.40,604.85L350.55,601.00Z" fill="#6fa858" stroke="#5e9e44" stroke-width="0.5"/>
<path d="M354.40,609.35L358.25,613.20L354.40,617.05L350.55,613.20Z" fill="#6fa858" stroke="#5e9e44" stroke-width="0.5"/>
<path d="M343.70,615.65L347.55,619.50L343.70,623.35L339.85,619.50Z" fill="#6fa858" stroke="#5e9e44" stroke-width="0.5"/>
<path d="M343.80,628.15L347.65,632.00L343.80,635.85L339.95,632.00Z" fill="#6fa858" stroke="#5e9e44" stroke-width="0.5"/>
<path d="M360.00,632.65L363.85,636.50L360.00,640.35L356.15,636.50Z" fill="#6fa858" stroke="#5e9e44" stroke-width="0.5"/>
<path d="M354.30,636.15L358.15,640.00L354.30,643.85L350.45,640.00Z" fill="#6fa858" stroke="#5e9e44" stroke-width="0.5"/>
<path d="M338.50,645.05L342.35,648.90L338.50,652.75L334.65,648.90Z" fill="#6fa858" stroke="#5e9e44" stroke-width="0.5"/>
<path d="M344.20,649.25L348.05,653.10L344.20,656.95L340.35,653.10Z" fill="#6fa858" stroke="#5e9e44" stroke-width="0.5"/>
<path d="M354.30,656.65L358.15,660.50L354.30,664.35L350.45,660.50Z" fill="#6fa858" stroke="#5e9e44" stroke-width="0.5"/>
<path d="M333.10,666.65L336.95,670.50L333.10,674.35L329.25,670.50Z" fill="#6fa858" stroke="#5e9e44" stroke-width="0.5"/>
<path d="M364.90,665.85L368.75,669.70L364.90,673.55L361.05,669.70Z" fill="#6fa858" stroke="#5e9e44" stroke-width="0.5"/>
<path d="M343.80,674.35L347.65,678.20L343.80,682.05L339.95,678.20Z" fill="#6fa858" stroke="#5e9e44" stroke-width="0.5"/>
<path d="M354.60,671.55L358.45,675.40L354.60,679.25L350.75,675.40Z" fill="#6fa858" stroke="#5e9e44" stroke-width="0.5"/>
<path d="M323.10,678.45L326.95,682.30L323.10,686.15L319.25,682.30Z" fill="#6fa858" stroke="#5e9e44" stroke-width="0.5"/>
<path d="M333.40,678.45L337.25,682.30L333.40,686.15L329.55,682.30Z" fill="#6fa858" stroke="#5e9e44" stroke-width="0.5"/>
<path d="M364.60,678.95L368.45,682.80L364.60,686.65L360.75,682.80Z" fill="#6fa858" stroke="#5e9e44" stroke-width="0.5"/>
<path d="M374.90,678.15L378.75,682.00L374.90,685.85L371.05,682.00Z" fill="#6fa858" stroke="#5e9e44" stroke-width="0.5"/>
<path d="M343.80,684.35L347.65,688.20L343.80,692.05L339.95,688.20Z" fill="#6fa858" stroke="#5e9e44" stroke-width="0.5"/>
<path d="M354.30,685.35L358.15,689.20L354.30,693.05L350.45,689.20Z" fill="#6fa858" stroke="#5e9e44" stroke-width="0.5"/>
<path d="M338.50,689.95L342.35,693.80L338.50,697.65L334.65,693.80Z" fill="#6fa858" stroke="#5e9e44" stroke-width="0.5"/>
<path d="M359.50,691.55L363.35,695.40L359.50,699.25L355.65,695.40Z" fill="#6fa858" stroke="#5e9e44" stroke-width="0.5"/>
<path d="M349.20,697.65L353.05,701.50L349.20,705.35L345.35,701.50Z" fill="#6fa858" stroke="#5e9e44" stroke-width="0.5"/>
<rect x="418.00" y="712.10" width="5.6" height="5.6" fill="#6e4a70" stroke="#5a2c5c" stroke-width="0.6"/>
<rect x="426.20" y="713.30" width="5.6" height="5.6" fill="#6e4a70" stroke="#5a2c5c" stroke-width="0.6"/>
<rect x="435.00" y="713.80" width="5.6" height="5.6" fill="#6e4a70" stroke="#5a2c5c" stroke-width="0.6"/>
<rect x="443.70" y="714.00" width="5.6" height="5.6" fill="#6e4a70" stroke="#5a2c5c" stroke-width="0.6"/>
<rect x="452.20" y="712.10" width="5.6" height="5.6" fill="#6e4a70" stroke="#5a2c5c" stroke-width="0.6"/>
<rect x="460.50" y="711.30" width="5.6" height="5.6" fill="#6e4a70" stroke="#5a2c5c" stroke-width="0.6"/>
<rect x="412.10" y="716.20" width="5.6" height="5.6" fill="#6e4a70" stroke="#5a2c5c" stroke-width="0.6"/>
<rect x="417.70" y="717.20" width="5.6" height="5.6" fill="#6e4a70" stroke="#5a2c5c" stroke-width="0.6"/>
<rect x="423.70" y="717.40" width="5.6" height="5.6" fill="#6e4a70" stroke="#5a2c5c" stroke-width="0.6"/>
<rect x="429.20" y="719.60" width="5.6" height="5.6" fill="#6e4a70" stroke="#5a2c5c" stroke-width="0.6"/>
<rect x="434.70" y="717.70" width="5.6" height="5.6" fill="#6e4a70" stroke="#5a2c5c" stroke-width="0.6"/>
<rect x="449.40" y="719.80" width="5.6" height="5.6" fill="#6e4a70" stroke="#5a2c5c" stroke-width="0.6"/>
<rect x="455.20" y="719.60" width="5.6" height="5.6" fill="#6e4a70" stroke="#5a2c5c" stroke-width="0.6"/>
<rect x="460.70" y="718.00" width="5.6" height="5.6" fill="#6e4a70" stroke="#5a2c5c" stroke-width="0.6"/>
<rect x="466.20" y="717.10" width="5.6" height="5.6" fill="#6e4a70" stroke="#5a2c5c" stroke-width="0.6"/>
<rect x="435.00" y="724.20" width="5.6" height="5.6" fill="#6e4a70" stroke="#5a2c5c" stroke-width="0.6"/>
<rect x="439.20" y="722.80" width="5.6" height="5.6" fill="#6e4a70" stroke="#5a2c5c" stroke-width="0.6"/>
<rect x="443.60" y="724.20" width="5.6" height="5.6" fill="#6e4a70" stroke="#5a2c5c" stroke-width="0.6"/>
<rect x="414.60" y="726.10" width="5.6" height="5.6" fill="#6e4a70" stroke="#5a2c5c" stroke-width="0.6"/>
<rect x="420.70" y="728.20" width="5.6" height="5.6" fill="#6e4a70" stroke="#5a2c5c" stroke-width="0.6"/>
<rect x="426.70" y="728.50" width="5.6" height="5.6" fill="#6e4a70" stroke="#5a2c5c" stroke-width="0.6"/>
<rect x="432.20" y="729.00" width="5.6" height="5.6" fill="#6e4a70" stroke="#5a2c5c" stroke-width="0.6"/>
<rect x="436.60" y="732.40" width="5.6" height="5.6" fill="#6e4a70" stroke="#5a2c5c" stroke-width="0.6"/>
<rect x="442.20" y="732.20" width="5.6" height="5.6" fill="#6e4a70" stroke="#5a2c5c" stroke-width="0.6"/>
<rect x="448.20" y="732.20" width="5.6" height="5.6" fill="#6e4a70" stroke="#5a2c5c" stroke-width="0.6"/>
<rect x="453.20" y="730.20" width="5.6" height="5.6" fill="#6e4a70" stroke="#5a2c5c" stroke-width="0.6"/>
<rect x="458.20" y="728.40" width="5.6" height="5.6" fill="#6e4a70" stroke="#5a2c5c" stroke-width="0.6"/>
<rect x="463.60" y="725.50" width="5.6" height="5.6" fill="#6e4a70" stroke="#5a2c5c" stroke-width="0.6"/>
<rect x="135.70" y="1164.95" width="5.6" height="5.6" fill="#6e4a70" stroke="#5a2c5c" stroke-width="0.6"/>
<rect x="142.45" y="1183.20" width="5.6" height="5.6" fill="#6e4a70" stroke="#5a2c5c" stroke-width="0.6"/>
<rect x="166.40" y="1169.90" width="5.6" height="5.6" fill="#6e4a70" stroke="#5a2c5c" stroke-width="0.6"/>
<rect x="165.10" y="1177.40" width="5.6" height="5.6" fill="#6e4a70" stroke="#5a2c5c" stroke-width="0.6"/>
<rect x="171.80" y="1176.00" width="5.6" height="5.6" fill="#6e4a70" stroke="#5a2c5c" stroke-width="0.6"/>
<rect x="178.10" y="1180.10" width="5.6" height="5.6" fill="#6e4a70" stroke="#5a2c5c" stroke-width="0.6"/>
<rect x="187.20" y="1170.70" width="5.6" height="5.6" fill="#6e4a70" stroke="#5a2c5c" stroke-width="0.6"/>
<rect x="192.60" y="1174.30" width="5.6" height="5.6" fill="#6e4a70" stroke="#5a2c5c" stroke-width="0.6"/>
<rect x="185.70" y="1177.60" width="5.6" height="5.6" fill="#6e4a70" stroke="#5a2c5c" stroke-width="0.6"/>
<rect x="189.90" y="1180.70" width="5.6" height="5.6" fill="#6e4a70" stroke="#5a2c5c" stroke-width="0.6"/>
<rect x="203.45" y="1180.95" width="5.6" height="5.6" fill="#6e4a70" stroke="#5a2c5c" stroke-width="0.6"/>
<rect x="205.95" y="1184.10" width="5.6" height="5.6" fill="#6e4a70" stroke="#5a2c5c" stroke-width="0.6"/>
<rect x="211.80" y="1163.20" width="5.6" height="5.6" fill="#6e4a70" stroke="#5a2c5c" stroke-width="0.6"/>
<rect x="212.80" y="1176.95" width="5.6" height="5.6" fill="#6e4a70" stroke="#5a2c5c" stroke-width="0.6"/>
<rect x="223.90" y="1168.00" width="5.6" height="5.6" fill="#6e4a70" stroke="#5a2c5c" stroke-width="0.6"/>
<rect x="244.20" y="1171.80" width="5.6" height="5.6" fill="#6e4a70" stroke="#5a2c5c" stroke-width="0.6"/>
<rect x="232.80" y="1181.80" width="5.6" height="5.6" fill="#6e4a70" stroke="#5a2c5c" stroke-width="0.6"/>
<rect x="236.60" y="1180.90" width="5.6" height="5.6" fill="#6e4a70" stroke="#5a2c5c" stroke-width="0.6"/>
<rect x="240.40" y="1180.10" width="5.6" height="5.6" fill="#6e4a70" stroke="#5a2c5c" stroke-width="0.6"/>
<rect x="253.20" y="1181.70" width="5.6" height="5.6" fill="#6e4a70" stroke="#5a2c5c" stroke-width="0.6"/>
<rect x="254.00" y="1164.20" width="5.6" height="5.6" fill="#6e4a70" stroke="#5a2c5c" stroke-width="0.6"/>
<rect x="259.20" y="1161.80" width="5.6" height="5.6" fill="#6e4a70" stroke="#5a2c5c" stroke-width="0.6"/>
<rect x="264.80" y="1168.20" width="5.6" height="5.6" fill="#6e4a70" stroke="#5a2c5c" stroke-width="0.6"/>
<rect x="273.40" y="1164.20" width="5.6" height="5.6" fill="#6e4a70" stroke="#5a2c5c" stroke-width="0.6"/>
<rect x="282.10" y="1167.30" width="5.6" height="5.6" fill="#6e4a70" stroke="#5a2c5c" stroke-width="0.6"/>
<rect x="282.50" y="1172.30" width="5.6" height="5.6" fill="#6e4a70" stroke="#5a2c5c" stroke-width="0.6"/>
<rect x="351.20" y="1168.60" width="5.6" height="5.6" fill="#6e4a70" stroke="#5a2c5c" stroke-width="0.6"/>
<rect x="431.20" y="1169.60" width="5.6" height="5.6" fill="#6e4a70" stroke="#5a2c5c" stroke-width="0.6"/>
<rect x="442.20" y="1163.40" width="5.6" height="5.6" fill="#6e4a70" stroke="#5a2c5c" stroke-width="0.6"/>
<path d="M168.50,979.45L171.60,985.15L165.40,985.15Z" fill="#a2283d" stroke="#951a31" stroke-width="0.5"/>
<path d="M130.00,994.65L133.10,1000.35L126.90,1000.35Z" fill="#a2283d" stroke="#951a31" stroke-width="0.5"/>
<path d="M163.75,995.15L166.85,1000.85L160.65,1000.85Z" fill="#a2283d" stroke="#951a31" stroke-width="0.5"/>
<path d="M178.00,1007.85L181.10,1013.55L174.90,1013.55Z" fill="#a2283d" stroke="#951a31" stroke-width="0.5"/>
<path d="M132.70,1032.45L135.80,1038.15L129.60,1038.15Z" fill="#a2283d" stroke="#951a31" stroke-width="0.5"/>
<path d="M158.30,1032.35L161.40,1038.05L155.20,1038.05Z" fill="#a2283d" stroke="#951a31" stroke-width="0.5"/>
<path d="M173.10,1046.95L176.20,1052.65L170.00,1052.65Z" fill="#a2283d" stroke="#951a31" stroke-width="0.5"/>
<path d="M205.20,1051.85L208.30,1057.55L202.10,1057.55Z" fill="#a2283d" stroke="#951a31" stroke-width="0.5"/>
<path d="M206.00,1059.15L209.10,1064.85L202.90,1064.85Z" fill="#a2283d" stroke="#951a31" stroke-width="0.5"/>
<path d="M146.25,1065.25L149.35,1070.95L143.15,1070.95Z" fill="#a2283d" stroke="#951a31" stroke-width="0.5"/>
<path d="M170.40,1062.75L173.50,1068.45L167.30,1068.45Z" fill="#a2283d" stroke="#951a31" stroke-width="0.5"/>
<path d="M159.20,1077.05L162.30,1082.75L156.10,1082.75Z" fill="#a2283d" stroke="#951a31" stroke-width="0.5"/>
<path d="M179.40,1079.85L182.50,1085.55L176.30,1085.55Z" fill="#a2283d" stroke="#951a31" stroke-width="0.5"/>
<path d="M166.20,1082.75L169.30,1088.45L163.10,1088.45Z" fill="#a2283d" stroke="#951a31" stroke-width="0.5"/>
<path d="M166.00,1130.25L169.10,1135.95L162.90,1135.95Z" fill="#a2283d" stroke="#951a31" stroke-width="0.5"/>
<path d="M210.60,1119.45L213.70,1125.15L207.50,1125.15Z" fill="#a2283d" stroke="#951a31" stroke-width="0.5"/>
<path d="M199.10,1150.25L202.20,1155.95L196.00,1155.95Z" fill="#a2283d" stroke="#951a31" stroke-width="0.5"/>
<circle cx="200.10" cy="1019.60" r="2.9" fill="#4b648c" stroke="#304d7b" stroke-width="0.6"/>
<circle cx="146.25" cy="1055.30" r="2.9" fill="#4b648c" stroke="#304d7b" stroke-width="0.6"/>
<circle cx="214.20" cy="1061.50" r="2.9" fill="#4b648c" stroke="#304d7b" stroke-width="0.6"/>
<circle cx="168.40" cy="1085.90" r="2.9" fill="#4b648c" stroke="#304d7b" stroke-width="0.6"/>
<circle cx="164.60" cy="1095.60" r="2.9" fill="#4b648c" stroke="#304d7b" stroke-width="0.6"/>
<circle cx="212.50" cy="1099.40" r="2.9" fill="#4b648c" stroke="#304d7b" stroke-width="0.6"/>
<circle cx="273.50" cy="1048.20" r="2.9" fill="#4b648c" stroke="#304d7b" stroke-width="0.6"/>
<circle cx="188.10" cy="1116.70" r="2.9" fill="#4b648c" stroke="#304d7b" stroke-width="0.6"/>
<circle cx="148.75" cy="1127.50" r="2.9" fill="#4b648c" stroke="#304d7b" stroke-width="0.6"/>
<circle cx="162.50" cy="1130.60" r="2.9" fill="#4b648c" stroke="#304d7b" stroke-width="0.6"/>
<circle cx="155.80" cy="1134.40" r="2.9" fill="#4b648c" stroke="#304d7b" stroke-width="0.6"/>
<circle cx="191.90" cy="1125.80" r="2.9" fill="#4b648c" stroke="#304d7b" stroke-width="0.6"/>
<circle cx="185.40" cy="1130.00" r="2.9" fill="#4b648c" stroke="#304d7b" stroke-width="0.6"/>
<circle cx="205.00" cy="1137.70" r="2.9" fill="#4b648c" stroke="#304d7b" stroke-width="0.6"/>
<circle cx="182.25" cy="1151.30" r="2.9" fill="#4b648c" stroke="#304d7b" stroke-width="0.6"/>
<circle cx="221.25" cy="1148.50" r="2.9" fill="#4b648c" stroke="#304d7b" stroke-width="0.6"/>
<circle cx="238.75" cy="1132.10" r="2.9" fill="#4b648c" stroke="#304d7b" stroke-width="0.6"/>
<circle cx="342.30" cy="1135.40" r="2.9" fill="#4b648c" stroke="#304d7b" stroke-width="0.6"/>
<path d="M118.60,1044.05L122.45,1047.90L118.60,1051.75L114.75,1047.90Z" fill="#6fa858" stroke="#5e9e44" stroke-width="0.5"/>
<path d="M153.50,1056.75L157.35,1060.60L153.50,1064.45L149.65,1060.60Z" fill="#6fa858" stroke="#5e9e44" stroke-width="0.5"/>
<path d="M194.40,1038.65L198.25,1042.50L194.40,1046.35L190.55,1042.50Z" fill="#6fa858" stroke="#5e9e44" stroke-width="0.5"/>
<path d="M244.90,1015.85L248.75,1019.70L244.90,1023.55L241.05,1019.70Z" fill="#6fa858" stroke="#5e9e44" stroke-width="0.5"/>
<path d="M164.10,1076.35L167.95,1080.20L164.10,1084.05L160.25,1080.20Z" fill="#6fa858" stroke="#5e9e44" stroke-width="0.5"/>
<path d="M191.90,1080.55L195.75,1084.40L191.90,1088.25L188.05,1084.40Z" fill="#6fa858" stroke="#5e9e44" stroke-width="0.5"/>
<path d="M191.40,1084.85L195.25,1088.70L191.40,1092.55L187.55,1088.70Z" fill="#6fa858" stroke="#5e9e44" stroke-width="0.5"/>
<path d="M158.50,1094.25L162.35,1098.10L158.50,1101.95L154.65,1098.10Z" fill="#6fa858" stroke="#5e9e44" stroke-width="0.5"/>
<path d="M181.90,1098.15L185.75,1102.00L181.90,1105.85L178.05,1102.00Z" fill="#6fa858" stroke="#5e9e44" stroke-width="0.5"/>
<path d="M122.50,1116.45L126.35,1120.30L122.50,1124.15L118.65,1120.30Z" fill="#6fa858" stroke="#5e9e44" stroke-width="0.5"/>
<path d="M123.40,1140.05L127.25,1143.90L123.40,1147.75L119.55,1143.90Z" fill="#6fa858" stroke="#5e9e44" stroke-width="0.5"/>
<path d="M145.60,1148.65L149.45,1152.50L145.60,1156.35L141.75,1152.50Z" fill="#6fa858" stroke="#5e9e44" stroke-width="0.5"/>
<path d="M171.90,1128.65L175.75,1132.50L171.90,1136.35L168.05,1132.50Z" fill="#6fa858" stroke="#5e9e44" stroke-width="0.5"/>
<path d="M171.50,1134.90L175.35,1138.75L171.50,1142.60L167.65,1138.75Z" fill="#6fa858" stroke="#5e9e44" stroke-width="0.5"/>
<path d="M188.10,1121.95L191.95,1125.80L188.10,1129.65L184.25,1125.80Z" fill="#6fa858" stroke="#5e9e44" stroke-width="0.5"/>
<path d="M189.60,1128.45L193.45,1132.30L189.60,1136.15L185.75,1132.30Z" fill="#6fa858" stroke="#5e9e44" stroke-width="0.5"/>
<path d="M197.70,1127.85L201.55,1131.70L197.70,1135.55L193.85,1131.70Z" fill="#6fa858" stroke="#5e9e44" stroke-width="0.5"/>
<path d="M196.90,1115.25L200.75,1119.10L196.90,1122.95L193.05,1119.10Z" fill="#6fa858" stroke="#5e9e44" stroke-width="0.5"/>
<path d="M198.80,1141.85L202.65,1145.70L198.80,1149.55L194.95,1145.70Z" fill="#6fa858" stroke="#5e9e44" stroke-width="0.5"/>
<path d="M226.90,1124.25L230.75,1128.10L226.90,1131.95L223.05,1128.10Z" fill="#6fa858" stroke="#5e9e44" stroke-width="0.5"/>
<path d="M246.00,1105.90L249.85,1109.75L246.00,1113.60L242.15,1109.75Z" fill="#6fa858" stroke="#5e9e44" stroke-width="0.5"/>
<path d="M292.00,1135.55L295.85,1139.40L292.00,1143.25L288.15,1139.40Z" fill="#6fa858" stroke="#5e9e44" stroke-width="0.5"/>
<path d="M389.10,1062.95L392.95,1066.80L389.10,1070.65L385.25,1066.80Z" fill="#6fa858" stroke="#5e9e44" stroke-width="0.5"/>
<path d="M118.30,1049.60C118.52,1051.20 118.93,1056.05 119.60,1059.20C120.27,1062.35 121.33,1065.67 122.30,1068.50C123.27,1071.33 124.25,1073.52 125.40,1076.20C126.55,1078.88 127.80,1081.92 129.20,1084.60C130.60,1087.28 132.13,1089.87 133.80,1092.30C135.47,1094.73 137.27,1097.02 139.20,1099.20C141.13,1101.38 143.18,1103.47 145.40,1105.40C147.62,1107.33 149.44,1108.58 152.50,1110.80C155.56,1113.02 160.00,1116.32 163.75,1118.75C167.50,1121.18 171.46,1123.46 175.00,1125.40C178.54,1127.34 181.67,1128.93 185.00,1130.40C188.33,1131.87 191.67,1133.00 195.00,1134.20C198.33,1135.40 200.83,1136.32 205.00,1137.60C209.17,1138.88 214.17,1140.57 220.00,1141.90C225.83,1143.23 233.33,1144.35 240.00,1145.60C246.67,1146.85 253.33,1148.25 260.00,1149.40C266.67,1150.55 273.33,1151.52 280.00,1152.50C286.67,1153.48 293.33,1154.52 300.00,1155.30C306.67,1156.08 313.33,1156.60 320.00,1157.20C326.67,1157.80 333.33,1158.35 340.00,1158.90C346.67,1159.45 353.33,1159.95 360.00,1160.50C366.67,1161.05 373.33,1161.70 380.00,1162.20C386.67,1162.70 393.33,1163.07 400.00,1163.50C406.67,1163.93 412.62,1164.33 420.00,1164.80C427.38,1165.27 440.25,1166.05 444.30,1166.30" fill="none" stroke="#dd9430" stroke-width="2.6" stroke-linecap="butt"/>
</svg>
</body></html>
